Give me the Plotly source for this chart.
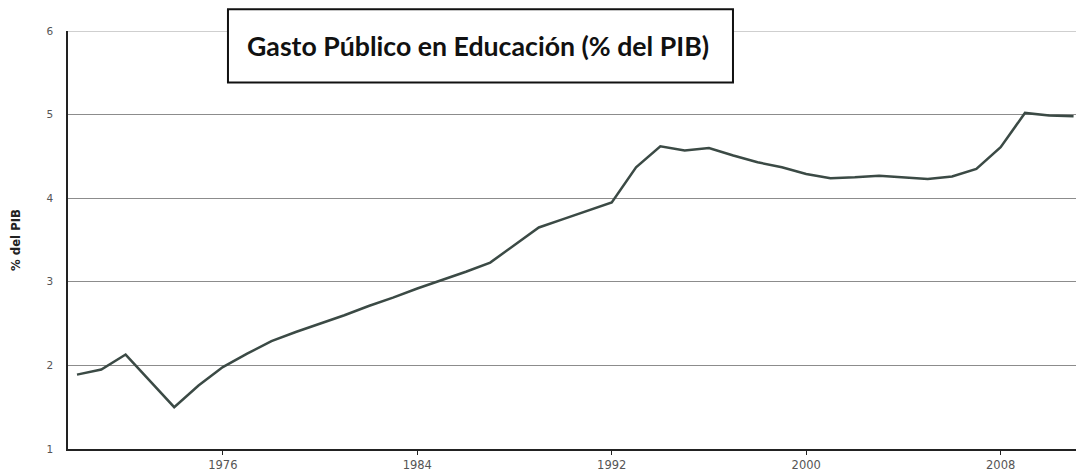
import plotly.graph_objects as go

# Public spending on education, % of GDP, by year
years = list(range(1970, 2012))
gasto_pib = [
    1.89, 1.95, 2.13, 1.82, 1.50, 1.76, 1.98, 2.14, 2.29, 2.40,
    2.50, 2.60, 2.71, 2.81, 2.92, 3.02, 3.12, 3.23, 3.44, 3.65,
    3.75, 3.85, 3.95, 4.37, 4.62, 4.57, 4.60, 4.51, 4.43, 4.37,
    4.29, 4.24, 4.25, 4.27, 4.25, 4.23, 4.26, 4.35, 4.61, 5.02,
    4.99, 4.98,
]

x_ticks = [1976, 1984, 1992, 2000, 2008]
y_ticks = [1, 2, 3, 4, 5, 6]

titulo = "Gasto Público en Educación (% del PIB)"
eje_y = "% del PIB"

fig = go.Figure()
fig.add_trace(go.Scatter(
    x=years, y=gasto_pib, mode="lines",
    line=dict(color="#3b4a45", width=2.5),
    showlegend=False, hoverinfo="x+y",
))

fig.update_layout(
    width=1076, height=472,
    margin=dict(l=68, r=0, t=31, b=20),
    paper_bgcolor="white", plot_bgcolor="white",
    font=dict(family="DejaVu Sans, Verdana, sans-serif", size=11, color="#555555"),
    xaxis=dict(
        range=[1969.63, 2011.1],
        tickvals=x_ticks, ticktext=[str(v) for v in x_ticks],
        ticks="outside", ticklen=4, tickwidth=1, tickcolor="#222222",
        showgrid=False, zeroline=False,
        showline=True, linecolor="#222222", linewidth=1.5,
        tickfont=dict(size=11.5, color="#555555"),
    ),
    yaxis=dict(
        range=[1, 6],
        tickvals=y_ticks,
        showgrid=True, gridcolor="#8c8c8c", gridwidth=1,
        zeroline=False,
        showline=True, linecolor="#222222", linewidth=1.5,
        ticks="", ticklabelstandoff=11,
        tickfont=dict(size=10.5, color="#555555"),
    ),
)

# Top gridline at the upper bound of the value axis
fig.add_shape(
    type="line", xref="paper", yref="y", x0=0, x1=1, y0=6, y1=6,
    line=dict(color="#a0a0a0", width=1), layer="below",
)

# Title box
fig.add_shape(
    type="rect", xref="paper", yref="paper",
    x0=0.1587, x1=0.6597, y0=0.8765, y1=1.0523,
    line=dict(color="#111111", width=2), fillcolor="white", layer="above",
)
fig.add_annotation(
    xref="paper", yref="paper", x=0.4072, y=0.9644,
    text="<b>" + titulo + "</b>", showarrow=False,
    font=dict(family="Lato, Carlito, Calibri, sans-serif", size=26.7, color="#111111"),
    xanchor="center", yanchor="middle",
)

# Y axis title
fig.add_annotation(
    xref="paper", yref="paper", x=-0.0526, y=0.5,
    text="<b>" + eje_y + "</b>", showarrow=False, textangle=-90,
    font=dict(family="DejaVu Sans Condensed, Liberation Sans Narrow, sans-serif", size=13, color="#222222"),
    xanchor="center", yanchor="middle",
)

fig.write_html("out.html")
